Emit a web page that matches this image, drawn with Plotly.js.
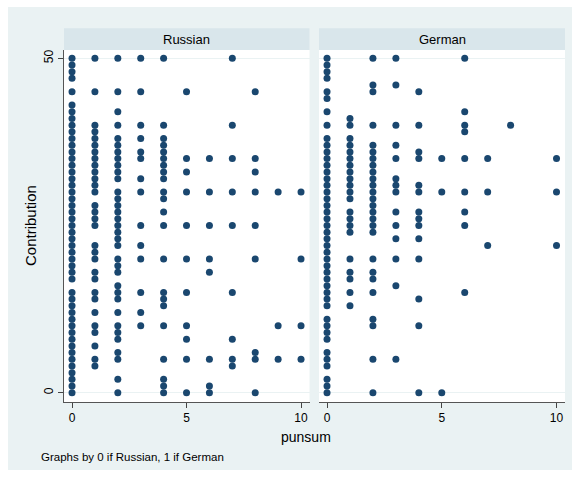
<!DOCTYPE html>
<html>
<head>
<meta charset="utf-8">
<script src="https://cdn.plot.ly/plotly-3.0.1.min.js"></script>
<style>
  html, body { margin: 0; padding: 0; background: #ffffff; }
  #chart { width: 578px; height: 482px; }
</style>
</head>
<body>
<div id="chart"></div>
<script>
// Punishment points received (x) and contribution (y), one panel per group.
const punsumLevels = [0, 1, 2, 3, 4, 5, 6, 7, 8, 9, 10];
const panelNames = ['Russian', 'German'];
const xTicks = [0, 5, 10];
const yTicks = [0, 50];

// Contributions observed at each punsum level (index = punsum)
const russianContribution = [
  [0,1,2,3,4,5,6,7,8,9,10,11,12,13,14,15,17,18,19,20,21,22,23,24,25,26,27,28,29,30,31,32,33,34,35,36,37,38,39,40,41,42,43,45,47,48,49,50],
  [4,5,7,9,10,12,14,15,17,18,20,21,22,25,26,27,28,30,31,32,33,34,35,36,37,38,39,40,45,50],
  [0,2,5,6,8,9,10,12,14,15,16,18,19,20,22,23,24,25,26,27,28,29,30,32,33,34,35,36,37,38,40,42,45,50],
  [10,12,15,20,22,25,30,32,35,36,38,40,45,50],
  [0,1,2,5,10,13,14,15,20,25,27,29,30,32,33,34,35,36,37,38,40,50],
  [0,5,8,10,15,20,25,30,33,35,45],
  [0,1,5,18,20,25,30,35],
  [4,5,8,15,25,30,35,40,50],
  [0,5,6,20,25,30,33,35,45],
  [5,10,30],
  [5,10,20,30]
];

const germanContribution = [
  [0,1,2,4,5,6,8,9,10,11,13,14,15,16,17,18,19,20,21,22,23,24,25,26,27,28,29,30,31,32,33,34,35,36,37,38,40,42,44,45,47,48,49,50],
  [13,15,17,18,20,24,25,26,27,29,30,31,32,33,34,35,36,37,38,40,41],
  [0,5,10,11,15,17,18,20,24,25,26,27,28,29,30,31,32,33,34,35,36,37,40,45,46,50],
  [5,16,20,23,25,27,30,31,32,35,37,40,46,50],
  [0,10,14,20,23,25,26,27,30,31,35,36,40,45],
  [0,30,35],
  [15,25,27,30,35,39,40,42,50],
  [22,30,35],
  [40],
  [],
  [22,30,35]
];

const markerColor = '#1a476f';
const outerColor = '#eaf2f3';
const stripColor = '#d9e6eb';
const fontFamily = '"Liberation Sans", Arial, Helvetica, sans-serif';

function pointsFor(contrib) {
  const xs = [], ys = [];
  contrib.forEach((vals, i) => {
    vals.forEach(v => { xs.push(punsumLevels[i]); ys.push(v); });
  });
  return { xs, ys };
}

const ru = pointsFor(russianContribution);
const de = pointsFor(germanContribution);

const markerStyle = { color: markerColor, size: 7, line: { width: 0 } };

const traces = [
  { type: 'scatter', mode: 'markers', x: ru.xs, y: ru.ys, xaxis: 'x', yaxis: 'y',
    marker: markerStyle, hoverinfo: 'x+y', showlegend: false },
  { type: 'scatter', mode: 'markers', x: de.xs, y: de.ys, xaxis: 'x2', yaxis: 'y2',
    marker: markerStyle, hoverinfo: 'x+y', showlegend: false }
];

// Plot-area geometry in pixels
const W = 578, H = 482;
const M = { l: 64, r: 13, t: 50, b: 80 };
const plotW = W - M.l - M.r;
const plotH = H - M.t - M.b;
const px = v => (v - M.l) / plotW;
const py = v => (H - M.b - v) / plotH;

const leftDomain = [0, px(309.5)];
const rightDomain = [px(319), 1];
const xRange = [-0.35, 10.37];
const yRange = [-1.39, 51.24];

const xAxisBase = {
  range: xRange,
  tickmode: 'array',
  tickvals: xTicks,
  ticktext: xTicks.map(String),
  ticks: 'outside',
  ticklen: 5,
  tickwidth: 1,
  tickcolor: '#444',
  showline: true,
  linecolor: '#555',
  linewidth: 1,
  showgrid: false,
  zeroline: false,
  tickfont: { family: fontFamily, size: 12, color: '#000' },
  fixedrange: true
};

const yAxisBase = {
  range: yRange,
  tickmode: 'array',
  tickvals: yTicks,
  ticktext: yTicks.map(String),
  showgrid: true,
  gridcolor: outerColor,
  gridwidth: 1.5,
  zeroline: false,
  fixedrange: true
};

const layout = {
  width: W,
  height: H,
  margin: { l: M.l, r: M.r, t: M.t, b: M.b, pad: 0 },
  paper_bgcolor: outerColor,
  plot_bgcolor: '#ffffff',
  font: { family: fontFamily, color: '#000' },
  showlegend: false,
  xaxis: Object.assign({}, xAxisBase, { domain: leftDomain, anchor: 'y' }),
  xaxis2: Object.assign({}, xAxisBase, { domain: rightDomain, anchor: 'y2' }),
  yaxis: Object.assign({}, yAxisBase, {
    anchor: 'x',
    ticks: 'outside',
    ticklen: 5,
    tickwidth: 1,
    tickcolor: '#444',
    tickangle: -90,
    showline: true,
    linecolor: '#555',
    linewidth: 1,
    tickfont: { family: fontFamily, size: 12, color: '#000' }
  }),
  yaxis2: Object.assign({}, yAxisBase, {
    anchor: 'x2',
    matches: 'y',
    showticklabels: false,
    ticks: '',
    showline: false
  }),
  shapes: [
    // white border around the graph region
    { type: 'rect', xref: 'paper', yref: 'paper', x0: px(0), x1: px(8), y0: py(H), y1: py(0),
      fillcolor: '#ffffff', line: { width: 0 }, layer: 'below' },
    { type: 'rect', xref: 'paper', yref: 'paper', x0: px(0), x1: px(W), y0: py(7), y1: py(0),
      fillcolor: '#ffffff', line: { width: 0 }, layer: 'below' },
    { type: 'rect', xref: 'paper', yref: 'paper', x0: px(0), x1: px(W), y0: py(H), y1: py(470),
      fillcolor: '#ffffff', line: { width: 0 }, layer: 'below' },
    { type: 'rect', xref: 'paper', yref: 'paper', x0: px(572), x1: px(W), y0: py(H), y1: py(0),
      fillcolor: '#ffffff', line: { width: 0 }, layer: 'below' },
    // panel header strips
    { type: 'rect', xref: 'paper', yref: 'paper', x0: leftDomain[0], x1: leftDomain[1], y0: 1, y1: py(28.3),
      fillcolor: stripColor, line: { width: 0 }, layer: 'below' },
    { type: 'rect', xref: 'paper', yref: 'paper', x0: rightDomain[0], x1: rightDomain[1], y0: 1, y1: py(28.3),
      fillcolor: stripColor, line: { width: 0 }, layer: 'below' }
  ],
  annotations: [
    { text: panelNames[0], xref: 'paper', yref: 'paper',
      x: (leftDomain[0] + leftDomain[1]) / 2, y: py(39), xanchor: 'center', yanchor: 'middle',
      showarrow: false, font: { family: fontFamily, size: 13, color: '#000' } },
    { text: panelNames[1], xref: 'paper', yref: 'paper',
      x: (rightDomain[0] + rightDomain[1]) / 2, y: py(39), xanchor: 'center', yanchor: 'middle',
      showarrow: false, font: { family: fontFamily, size: 13, color: '#000' } },
    { text: 'punsum', xref: 'paper', yref: 'paper',
      x: px(306), y: py(437), xanchor: 'center', yanchor: 'middle',
      showarrow: false, font: { family: fontFamily, size: 14, color: '#000' } },
    { text: 'Contribution', xref: 'paper', yref: 'paper', textangle: -90,
      x: px(30), y: py(226), xanchor: 'center', yanchor: 'middle',
      showarrow: false, font: { family: fontFamily, size: 15, color: '#000' } },
    { text: 'Graphs by 0 if Russian, 1 if German', xref: 'paper', yref: 'paper',
      x: px(39), y: py(457), xanchor: 'left', yanchor: 'middle',
      showarrow: false, font: { family: fontFamily, size: 11.5, color: '#000' } }
  ]
};

Plotly.newPlot('chart', traces, layout, { staticPlot: true, displayModeBar: false });
</script>
</body>
</html>
